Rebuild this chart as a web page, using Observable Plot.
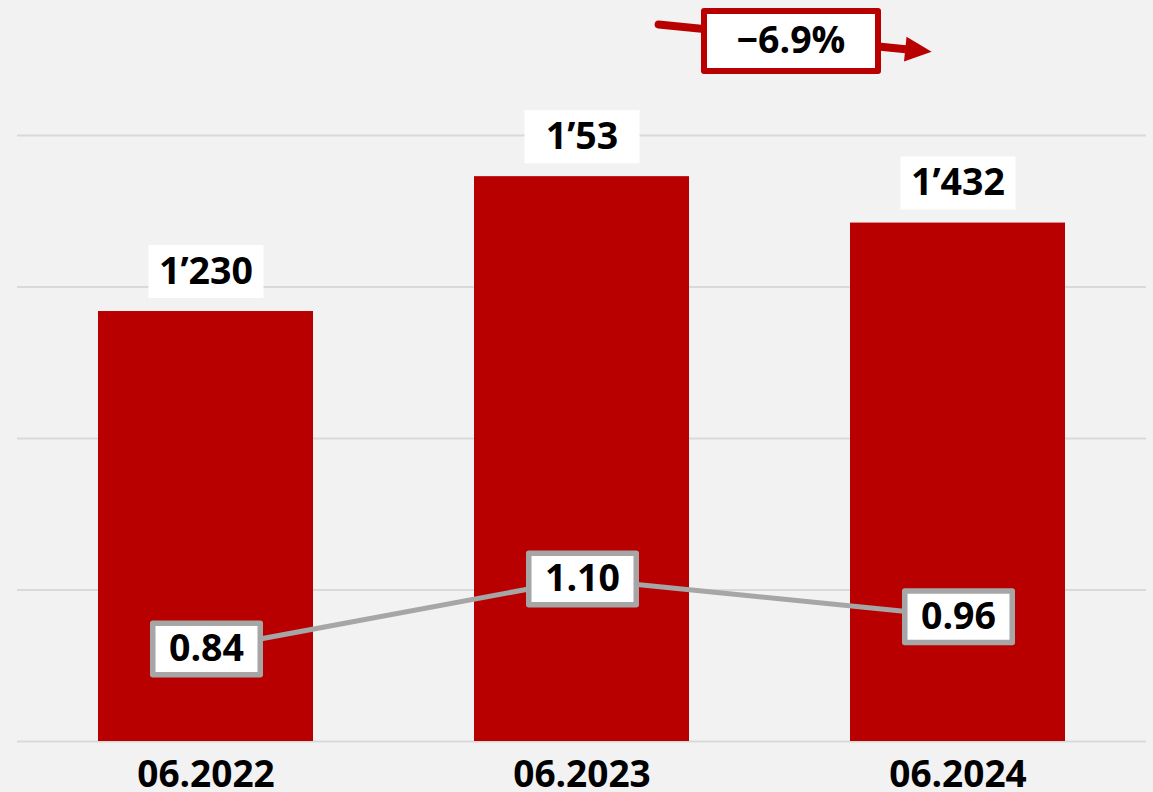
<!DOCTYPE html>
<html>
<head>
<meta charset="utf-8">
<script src="https://cdn.jsdelivr.net/npm/d3@7"></script>
<script src="https://cdn.jsdelivr.net/npm/@observablehq/plot@0.6"></script>
<style>
  html, body { margin: 0; padding: 0; background: #f2f2f2; }
  #wrap { position: relative; width: 1153px; height: 792px; overflow: hidden; }
  #wrap svg { position: absolute; left: 0; top: 0; }
</style>
</head>
<body>
<div id="wrap"></div>
<script>
// ---- data ----
const periods = ["06.2022", "06.2023", "06.2024"];
const barValues = [1230, 1538, 1432];
const barLabels = ["1’230", "1’53", "1’432"];
const ratioValues = [0.84, 1.10, 0.96];
const changeLabel = "−6.9%";
const changeArrowFrom = ["06.2023", 1903];
const changeArrowTo = ["06.2024", 1817];

// ---- styles ----
const W = 1153, H = 792;
const RED = "#b80000";
const GREY = "#a6a6a6";
const FONT = "'Open Sans', sans-serif";
const FS = 37.5;

const bars = periods.map((p, i) => ({period: p, value: barValues[i], label: barLabels[i]}));
const ratios = periods.map((p, i) => ({period: p, value: ratioValues[i]}));

function boxSymbol(w, h) {
  return {draw(ctx) {
    ctx.moveTo(-w / 2, -h / 2); ctx.lineTo(w / 2, -h / 2);
    ctx.lineTo(w / 2, h / 2); ctx.lineTo(-w / 2, h / 2); ctx.closePath();
  }};
}
const headSymbol = {draw(ctx) {
  ctx.moveTo(-26.5, 0); ctx.lineTo(-53, -12.5); ctx.lineTo(-53, 12.5); ctx.closePath();
}};

const xOpts = {domain: periods, paddingInner: 0.428, paddingOuter: 0.213};
const common = {
  width: W, height: H, marginLeft: 17, marginRight: 7, marginTop: 135, marginBottom: 51,
  style: {background: "transparent", fontFamily: FONT, overflow: "visible"}
};

const yDom = [248, 1632];
const grid = d3.range(5).map(i => yDom[0] + i * (yDom[1] - yDom[0]) / 4);

const arrowData = [{x1: changeArrowFrom[0], y1: changeArrowFrom[1], x2: changeArrowTo[0], y2: changeArrowTo[1]}];

const barPlot = Plot.plot({
  ...common,
  x: {...xOpts, axis: "bottom", tickSize: 0, tickPadding: 19, label: null},
  y: {domain: yDom, axis: null},
  marks: [
    Plot.ruleY(grid, {stroke: "#d9d9d9", strokeWidth: 2}),
    Plot.barY(bars, {x: "period", y1: yDom[0], y2: "value", fill: RED}),
    Plot.dot(bars, {x: "period", y: "value", dy: -40, symbol: boxSymbol(115, 53), fill: "white", stroke: null}),
    Plot.text(bars, {x: "period", y: "value", dy: -40, text: "label", fontSize: FS, fontWeight: "bold", fill: "black"}),
    Plot.arrow(arrowData, {x1: "x1", y1: "y1", x2: "x2", y2: "y2", stroke: RED, strokeWidth: 8, headLength: 0, insetStart: 77, insetEnd: 50}),
    Plot.dot(arrowData, {x: "x2", y: "y2", symbol: headSymbol, fill: RED, stroke: null, rotate: 5.8}),
    Plot.dot([changeLabel], {x: () => "06.2023", y: () => 1848, dx: 209, symbol: boxSymbol(174, 60), fill: "white", stroke: RED, strokeWidth: 6, strokeLinejoin: "round"}),
    Plot.text([changeLabel], {x: () => "06.2023", y: () => 1848, dx: 209, text: d => d, fontSize: FS, fontWeight: "bold", fill: "black"})
  ]
});
barPlot.querySelectorAll("g[aria-label='x-axis tick label']").forEach(el => {
  el.setAttribute("font-size", 37); el.setAttribute("font-weight", "bold"); el.setAttribute("fill", "black");
});

const linePlot = Plot.plot({
  ...common,
  x: {...xOpts, axis: null},
  y: {domain: [0.4964, 2.7475], axis: null},
  marks: [
    Plot.line(ratios, {x: "period", y: "value", stroke: GREY, strokeWidth: 5}),
    Plot.dot(ratios, {x: "period", y: "value", symbol: boxSymbol(107.5, 51.5), fill: "white", stroke: GREY, strokeWidth: 5.5, strokeLinejoin: "round"}),
    Plot.text(ratios, {x: "period", y: "value", text: d => d3.format(".2f")(d.value), fontSize: FS, fontWeight: "bold", fill: "black"})
  ]
});

const wrap = document.getElementById("wrap");
wrap.appendChild(barPlot);
wrap.appendChild(linePlot);
</script>
</body>
</html>
